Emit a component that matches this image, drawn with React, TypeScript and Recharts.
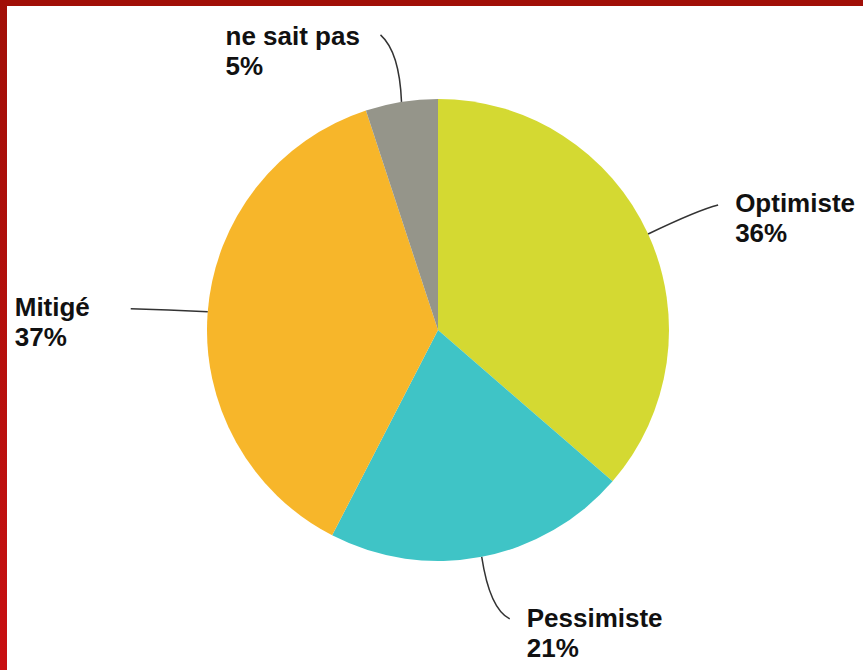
import { PieChart, Pie, Cell } from "recharts"

const names = ["Optimiste", "Pessimiste", "Mitigé", "ne sait pas"]
const values = [36, 21, 37, 5]
const colors = ["#d4d932", "#3fc4c6", "#f7b62a", "#95958a"]

const data = names.map((name, i) => ({ name, value: values[i] }))

// leader line / label placement, relative to the point on the rim
const labelLayout: Record<string, { ctrl: number[]; end: number[]; text: number[] }> = {
  "Optimiste": { ctrl: [50, -24], end: [70, -29], text: [87, -22] },
  "Pessimiste": { ctrl: [8, 52], end: [28, 62], text: [45, 70] },
  "Mitigé": { ctrl: [-40, -2], end: [-77, -3], text: [-193, 4] },
  "ne sait pas": { ctrl: [-2, -50], end: [-21, -67], text: [-176, -57] }
}

const RADIAN = Math.PI / 180

function renderLabel(props: any) {
  const { cx, cy, midAngle, outerRadius, name, value } = props
  const x0 = cx + outerRadius * Math.cos(-midAngle * RADIAN)
  const y0 = cy + outerRadius * Math.sin(-midAngle * RADIAN)
  const l = labelLayout[name]
  const tx = x0 + l.text[0]
  const ty = y0 + l.text[1]
  return (
    <g key={name}>
      <path
        d={`M${x0},${y0} Q${x0 + l.ctrl[0]},${y0 + l.ctrl[1]} ${x0 + l.end[0]},${y0 + l.end[1]}`}
        stroke="#333"
        strokeWidth={1.5}
        fill="none"
      />
      <text
        x={tx}
        y={ty}
        fill="#111"
        fontFamily="'Liberation Sans', Arial, sans-serif"
        fontWeight="bold"
        fontSize={26}
      >
        <tspan x={tx} y={ty}>{name}</tspan>
        <tspan x={tx} y={ty + 30}>{value}%</tspan>
      </text>
    </g>
  )
}

export default function App() {
  return (
    <div style={{ position: "absolute", left: 0, top: 0, width: 863, height: 670, background: "#fff", overflow: "hidden" }}>
      <div style={{ position: "absolute", left: 0, top: 0, width: 863, height: 6, background: "#a10f07" }} />
      <div style={{ position: "absolute", left: 0, top: 0, width: 7, height: 670, background: "linear-gradient(#a10f07, #c81012)" }} />
      <div style={{ position: "absolute", left: 0, top: 0 }}>
        <PieChart width={863} height={670} margin={{ top: 0, right: 0, bottom: 0, left: 0 }}>
          <Pie
            data={data}
            dataKey="value"
            nameKey="name"
            cx={438}
            cy={330}
            outerRadius={231}
            startAngle={90}
            endAngle={-270}
            stroke="none"
            label={renderLabel}
            labelLine={false}
            isAnimationActive={false}
          >
            {data.map((d, i) => (
              <Cell key={d.name} fill={colors[i]} />
            ))}
          </Pie>
        </PieChart>
      </div>
    </div>
  )
}
